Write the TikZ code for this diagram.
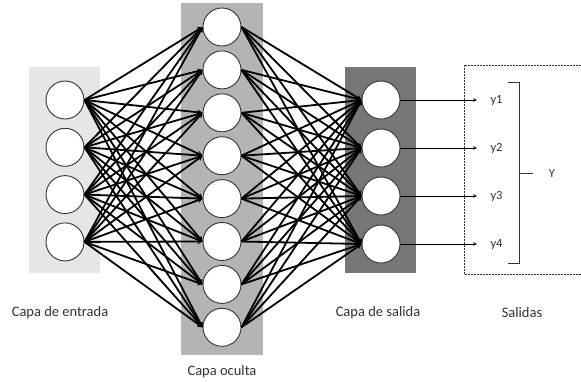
\documentclass[tikz,border=0pt]{standalone}
\usepackage{fontspec}
\setmainfont{Carlito}
\usetikzlibrary{arrows.meta}
\definecolor{inbox}{HTML}{E6E6E6}
\definecolor{hidbox}{HTML}{B4B4B4}
\definecolor{outbox}{HTML}{777777}
\definecolor{ink}{HTML}{333333}
\tikzset{
  neuron/.style={circle, draw=ink, line width=0.9pt, fill=white, minimum size=38pt, inner sep=0pt},
  link/.style={line width=1.8pt, -{Stealth[length=5pt,width=5.5pt]}},
  outlink/.style={line width=0.8pt, -{Stealth[length=4pt,width=3.5pt]}},
  caption/.style={font=\fontsize{14.5}{16}\selectfont, text=ink},
  ylabel/.style={font=\fontsize{12.5}{14}\selectfont, text=ink},
}
\begin{document}
\begin{tikzpicture}[x=1pt, y=-1pt]
\useasboundingbox (0,0) rectangle (581,381);
% layer backgrounds
\fill[inbox] (29,67) rectangle (100,273);
\fill[hidbox] (181,3) rectangle (263,355);
\fill[outbox] (345,67) rectangle (416,273);
% output region, open on the right
\draw[ink, line width=0.8pt, dash pattern=on 2pt off 1pt]
  (590,65) -- (464,65) -- (464,274) -- (590,274);
% neurons
\foreach \i in {1,...,4} {
  \node[neuron] (in\i) at (65,{100+47.3*(\i-1)}) {};
  \node[neuron] (out\i) at (381,{100+48*(\i-1)}) {};
}
\foreach \j in {1,...,8} {
  \node[neuron] (hid\j) at (222,{27+42.9*(\j-1)}) {};
}
% full connections
\foreach \i in {1,...,4} {
  \foreach \j in {1,...,8} {
    \draw[link] (in\i.east) -- (hid\j.west);
    \draw[link] (hid\j.east) -- (out\i.west);
  }
}
% outputs
\foreach \i in {1,...,4} {
  \coordinate (tip\i) at (477,{100+48*(\i-1)});
  \draw[outlink] (out\i.east) -- (tip\i);
  \node[ylabel, anchor=west] (lab\i) at (487,{100+48*(\i-1)}) {y\i};
}
% brace grouping the outputs
\draw[ink, line width=1pt] (508,82) -- (519,82) -- (519,263) -- (508,263);
\coordinate (bmid) at (519,173);
\node[ylabel] (ybig) at (552,173) {Y};
\draw[ink, line width=1pt] (bmid) -- (533,173);
% captions
\node[caption] (c1) at (60,313) {Capa de entrada};
\node[caption] (c2) at (222,372) {Capa oculta};
\node[caption] (c3) at (378,313) {Capa de salida};
\node[caption] (c4) at (522,313) {Salidas};
\end{tikzpicture}
\end{document}
